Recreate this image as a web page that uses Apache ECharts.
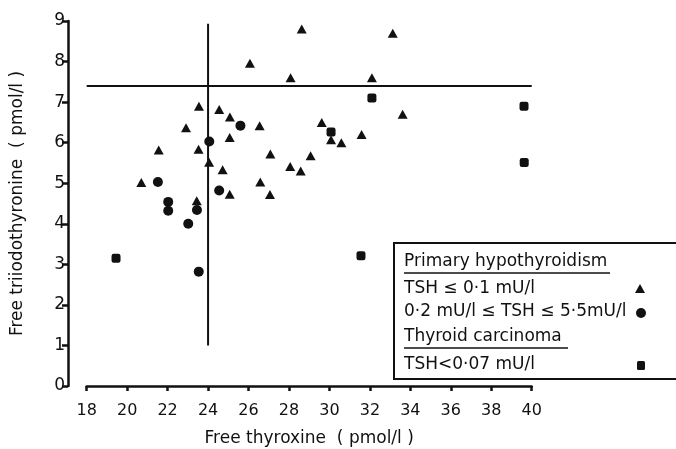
<!DOCTYPE html>
<html>
<head>
<meta charset="utf-8">
<script src="https://cdn.jsdelivr.net/npm/echarts@6/dist/echarts.min.js"></script>
<style>
html,body{margin:0;padding:0;background:#fff;}
#chart{width:676px;height:449px;}
</style>
</head>
<body>
<div id="chart"></div>
<script>
// ---- Data ----
var xTicks = [18,20,22,24,26,28,30,32,34,36,38,40];
var yTicks = [0,1,2,3,4,5,6,7,8,9];

// TSH <= 0.1 mU/l (triangles)
var lowTSH = [
  [26.07,7.96],[23.55,6.90],[24.55,6.82],[25.08,6.63],[26.55,6.42],[22.91,6.37],
  [25.07,6.13],[21.56,5.82],[23.53,5.84],[27.08,5.72],[24.05,5.52],[24.72,5.33],
  [20.70,5.02],[26.58,5.03],[25.07,4.73],[27.06,4.72],[23.44,4.57],[28.63,8.80],
  [33.13,8.70],[28.08,7.60],[32.10,7.60],[33.62,6.70],[29.62,6.50],[30.08,6.07],
  [30.59,6.00],[31.59,6.20],[29.07,5.68],[28.06,5.41],[28.58,5.30]
];
// 0.2 <= TSH <= 5.5 mU/l (circles)
var normTSH = [
  [25.60,6.42],[24.06,6.03],[21.52,5.03],[24.55,4.82],[22.03,4.54],
  [22.03,4.32],[23.45,4.34],[23.02,4.00],[23.54,2.82]
];
// Thyroid carcinoma TSH < 0.07 mU/l (squares)
var carcinoma = [
  [19.45,3.15],[32.10,7.10],[39.62,6.90],[30.08,6.26],[39.63,5.51],[31.56,3.21]
];
// Reference lines
var refH = [[18,7.4],[40,7.4]];
var refV = [[24,1.0],[24,8.93]];

var ink = '#111';
var fontFam = '"DejaVu Sans", "Liberation Sans", sans-serif';

var chart = echarts.init(document.getElementById('chart'));
var lx = 404;
function legText(t, y) {
  return {type: 'text', x: lx, y: y, z: 11,
    style: {text: t, fontSize: 17, fontFamily: fontFam, fill: ink, textVerticalAlign: 'middle', verticalAlign: 'middle'}};
}
var option = {
  animation: false,
  backgroundColor: '#fff',
  grid: {left: 86.7, right: 144.3, top: 21, bottom: 63, outerBoundsMode: 'none', containLabel: false},
  xAxis: {
    type: 'value', min: 18, max: 40, interval: 2, offset: 4,
    name: 'Free thyroxine  ( pmol/l )', nameLocation: 'middle', nameGap: 40,
    nameTextStyle: {fontSize: 17, color: ink, fontFamily: fontFam},
    axisLine: {show: true, lineStyle: {color: ink, width: 2.5}},
    axisTick: {show: true, inside: false, length: 5, lineStyle: {color: ink, width: 2.5}},
    axisLabel: {fontSize: 16, color: ink, margin: 13, fontFamily: fontFam,
      formatter: function(v){ return xTicks.indexOf(v) >= 0 ? String(v) : ''; }},
    splitLine: {show: false}
  },
  yAxis: {
    type: 'value', min: 0, max: 9, interval: 1, offset: 18.7,
    name: 'Free triiodothyronine  ( pmol/l )', nameLocation: 'middle', nameGap: 42,
    nameTextStyle: {fontSize: 17, color: ink, fontFamily: fontFam},
    axisLine: {show: true, lineStyle: {color: ink, width: 2.5}},
    axisTick: {show: true, inside: false, length: 6, lineStyle: {color: ink, width: 2.5}},
    axisLabel: {fontSize: 17, color: ink, margin: 3, fontFamily: fontFam,
      formatter: function(v){ return yTicks.indexOf(v) >= 0 ? String(v) : ''; }},
    splitLine: {show: false}
  },
  series: [
    {type: 'line', data: refH, symbol: 'none', lineStyle: {color: ink, width: 2}, silent: true, z: 1},
    {type: 'line', data: refV, symbol: 'none', lineStyle: {color: ink, width: 2}, silent: true, z: 1},
    {type: 'scatter', name: 'TSH ≤ 0·1 mU/l', data: lowTSH, symbol: 'triangle', symbolSize: [10, 9],
      itemStyle: {color: ink, opacity: 1}, z: 3},
    {type: 'scatter', name: '0·2 mU/l ≤ TSH ≤ 5·5 mU/l', data: normTSH, symbol: 'circle', symbolSize: 10,
      itemStyle: {color: ink, opacity: 1}, z: 3},
    {type: 'scatter', name: 'TSH<0·07 mU/l', data: carcinoma, symbol: 'roundRect', symbolSize: 9,
      itemStyle: {color: ink, opacity: 1}, z: 3}
  ],
  graphic: [
    {type: 'rect', z: 10, shape: {x: 394, y: 243, width: 300, height: 136},
      style: {fill: '#fff', stroke: ink, lineWidth: 2}},
    legText('Primary hypothyroidism', 262),
    {type: 'line', z: 11, shape: {x1: lx, y1: 273, x2: 610, y2: 273}, style: {stroke: ink, lineWidth: 1.5}},
    legText('TSH ≤ 0·1 mU/l', 289),
    legText('0·2 mU/l ≤ TSH ≤ 5·5mU/l', 312),
    legText('Thyroid carcinoma', 337),
    {type: 'line', z: 11, shape: {x1: lx, y1: 348, x2: 568, y2: 348}, style: {stroke: ink, lineWidth: 1.5}},
    legText('TSH<0·07 mU/l', 365),
    {type: 'polygon', z: 11, shape: {points: [[640, 284], [645, 293], [635, 293]]}, style: {fill: ink}},
    {type: 'circle', z: 11, shape: {cx: 641, cy: 313, r: 5}, style: {fill: ink}},
    {type: 'rect', z: 11, shape: {x: 637, y: 361, width: 8, height: 9, r: 1.5}, style: {fill: ink}}
  ]
};
chart.setOption(option);
</script>
</body>
</html>
